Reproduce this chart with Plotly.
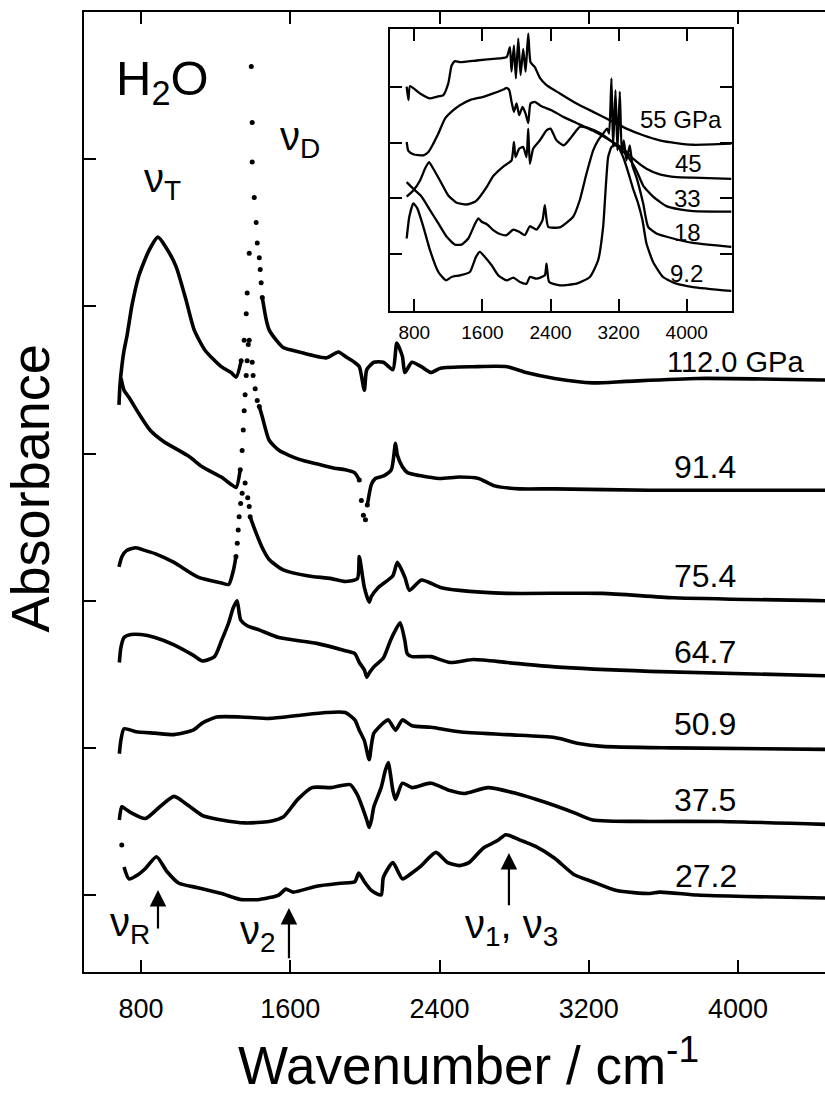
import plotly.graph_objects as go

# ---------------- data ----------------
# main panel: wavenumber (cm-1) and offset absorbance (arb. units)
wn_112 = [682, 687, 698, 709, 725, 752, 789, 843, 891, 934, 988, 1042, 1085, 1144, 1230, 1283, 1310, 1337,
          1353, 1364, 1369, 1380, 1391, 1396, 1396, 1407, 1417, 1423, 1434, 1439, 1444, 1450,
          1471, 1487, 1525, 1562, 1648, 1793, 1858, 1906, 1944, 1970, 1997, 2010, 2048, 2099, 2150, 2171,
          2201, 2214, 2252, 2303, 2354, 2405, 2583, 2762, 2864, 3017, 3221, 3399, 3783, 4467]
ab_112 = [3.33, 3.46, 3.60, 3.70, 3.80, 4.01, 4.21, 4.38, 4.47, 4.40, 4.27, 4.04, 3.84, 3.70, 3.59, 3.55, 3.52, 3.63,
          3.77, 3.95, 4.09, 4.36, 5.63, 5.25, 4.98, 4.74, 4.57, 4.43, 4.33, 4.25, 4.16, 4.06,
          3.91, 3.84, 3.77, 3.72, 3.69, 3.65, 3.69, 3.65, 3.62, 3.59, 3.43, 3.57, 3.62, 3.62, 3.57, 3.75,
          3.66, 3.55, 3.62, 3.59, 3.55, 3.58, 3.59, 3.59, 3.55, 3.51, 3.48, 3.49, 3.51, 3.50]

wn_914 = [693, 709, 736, 789, 848, 923, 977, 1058, 1128, 1230, 1283, 1310,
          1332, 1342, 1348, 1353, 1358, 1364, 1369, 1375, 1380, 1396, 1401, 1412, 1423, 1434,
          1450, 1487, 1541, 1648, 1740, 1836, 1895, 1944, 1970, 1981, 1992, 2003, 2013, 2035, 2056,
          2104, 2142, 2164, 2174, 2201, 2228, 2293, 2400, 2507, 2609, 2695, 2829, 3017, 3527, 4467]
ab_914 = [3.51, 3.43, 3.38, 3.27, 3.16, 3.08, 3.04, 2.98, 2.91, 2.84, 2.79, 2.77,
          2.89, 3.02, 3.16, 3.29, 3.40, 3.53, 3.63, 3.74, 3.77, 3.62, 3.53, 3.44, 3.36, 3.32,
          3.25, 3.09, 3.02, 2.96, 2.93, 2.90, 2.89, 2.87, 2.82, 2.68, 2.58, 2.55, 2.65, 2.79, 2.83,
          2.85, 2.89, 3.07, 2.99, 2.91, 2.87, 2.85, 2.83, 2.84, 2.83, 2.78, 2.76, 2.76, 2.75, 2.75]

wn_754 = [682, 698, 722, 773, 824, 875, 977, 1106, 1232, 1270, 1296, 1309, 1316, 1321, 1326, 1334, 1342,
          1358, 1372, 1380, 1385, 1411, 1450, 1487, 1562, 1691, 1820, 1895, 1960, 1970, 1997, 2023,
          2035, 2072, 2150, 2174, 2214, 2239, 2303, 2405, 2507, 2762, 3273, 3655, 4467]
ab_754 = [2.23, 2.30, 2.34, 2.36, 2.34, 2.32, 2.26, 2.16, 2.12, 2.11, 2.21, 2.30, 2.39, 2.48, 2.57, 2.66, 2.73,
          2.80, 2.70, 2.64, 2.57, 2.48, 2.36, 2.28, 2.21, 2.17, 2.15, 2.13, 2.15, 2.30, 2.09, 1.99,
          2.03, 2.09, 2.17, 2.26, 2.16, 2.07, 2.14, 2.09, 2.07, 2.05, 2.05, 2.02, 2.00]

wn_647 = [684, 692, 709, 746, 799, 875, 977, 1079, 1130, 1194, 1232, 1270, 1294, 1315, 1334, 1369, 1436,
          1538, 1742, 1895, 1946, 1970, 1997, 2010, 2024, 2048, 2099, 2137, 2164, 2189, 2214, 2227,
          2252, 2354, 2456, 2583, 2762, 3017, 3527, 4467]
ab_647 = [1.58, 1.68, 1.75, 1.77, 1.77, 1.75, 1.70, 1.63, 1.59, 1.62, 1.73, 1.85, 1.95, 2.00, 1.87, 1.83, 1.80,
          1.75, 1.71, 1.66, 1.64, 1.58, 1.53, 1.48, 1.51, 1.55, 1.61, 1.73, 1.80, 1.85, 1.73, 1.64,
          1.62, 1.62, 1.58, 1.60, 1.58, 1.55, 1.52, 1.49]

wn_509 = [684, 692, 709, 773, 875, 977, 1079, 1130, 1207, 1334, 1487, 1640, 1793, 1895, 1946, 1970, 1997,
          2023, 2035, 2048, 2099, 2126, 2164, 2201, 2252, 2354, 2507, 2762, 3017, 3146, 3273, 3655, 4467]
ab_509 = [0.96, 1.05, 1.13, 1.11, 1.10, 1.09, 1.12, 1.17, 1.21, 1.21, 1.20, 1.22, 1.24, 1.24, 1.19, 1.12, 1.05,
          0.92, 1.02, 1.10, 1.17, 1.19, 1.12, 1.19, 1.15, 1.14, 1.11, 1.09, 1.07, 1.03, 1.01, 1.00, 0.99]

wn_375 = [684, 697, 722, 746, 824, 901, 977, 1052, 1130, 1232, 1358, 1487, 1562, 1640, 1717, 1819, 1921,
          1960, 1985, 2010, 2023, 2035, 2048, 2087, 2110, 2126, 2137, 2150, 2164, 2201, 2252, 2354, 2456,
          2533, 2660, 2813, 2966, 3120, 3221, 3527, 3908, 4467]
ab_375 = [0.51, 0.60, 0.58, 0.56, 0.52, 0.60, 0.67, 0.61, 0.54, 0.51, 0.49, 0.50, 0.53, 0.65, 0.73, 0.73, 0.75,
          0.68, 0.60, 0.51, 0.46, 0.51, 0.60, 0.73, 0.85, 0.90, 0.82, 0.71, 0.65, 0.76, 0.73, 0.76, 0.71,
          0.69, 0.73, 0.69, 0.63, 0.56, 0.51, 0.50, 0.50, 0.48]

wn_272 = [697, 709, 735, 786, 824, 883, 939, 1003, 1105, 1232, 1334, 1436, 1538, 1576, 1615, 1742, 1870,
          1946, 1967, 1997, 2036, 2087, 2099, 2150, 2201, 2252, 2303, 2380, 2444, 2507, 2558, 2635, 2711,
          2755, 2839, 2915, 3017, 3120, 3221, 3349, 3527, 3579, 3783, 4038, 4467]
ab_272 = [0.34, 0.19, 0.11, 0.14, 0.18, 0.26, 0.16, 0.08, 0.05, 0.01, -0.03, -0.03, 0.00, 0.04, 0.02, 0.06, 0.08,
          0.09, 0.15, 0.09, 0.03, 0.00, 0.12, 0.22, 0.11, 0.15, 0.20, 0.29, 0.22, 0.20, 0.22, 0.32, 0.37,
          0.41, 0.37, 0.33, 0.25, 0.14, 0.09, 0.03, 0.01, 0.02, 0.00, -0.01, -0.02]

pressure_labels = ["112.0 GPa", "91.4", "75.4", "64.7", "50.9", "37.5", "27.2"]
# wavenumber ranges recorded as separate dots (steep parts of the scans)
dot_ranges = [[(1337, 1450)], [(1332, 1434), (1970, 2013)], [(1309, 1385)], [], [], [], [(600, 705)]]

# band positions marked by arrows (cm-1)
band_names = ["R", "2", "1,3"]
band_wn = [891, 1593, 2772]

# inset: wavenumber and offset absorbance
in_wn_55 = [710, 730, 749, 867, 984, 1062, 1140, 1199, 1238, 1277, 1336, 1532, 1727, 1884, 1923, 1942, 1970,
            1993, 2021, 2048, 2079, 2107, 2138, 2165, 2216, 2275, 2353, 2509, 2705, 2901, 3096, 3292, 3488,
            3683, 3879, 4074, 4524]
in_ab_55 = [4.00, 3.76, 4.01, 3.88, 3.79, 3.82, 3.85, 4.06, 4.38, 4.46, 4.44, 4.47, 4.50, 4.53, 4.71, 4.27, 4.74,
            4.15, 4.86, 4.21, 4.68, 4.27, 4.95, 4.44, 4.35, 4.16, 4.03, 3.88, 3.70, 3.55, 3.40, 3.25, 3.13,
            3.04, 2.99, 2.96, 2.98]
in_wn_45 = [710, 730, 788, 906, 965, 1023, 1082, 1160, 1258, 1336, 1453, 1610, 1727, 1845, 1884, 1915, 1942,
            1970, 2001, 2032, 2071, 2107, 2138, 2165, 2216, 2294, 2412, 2549, 2705, 2901, 3096, 3253, 3370,
            3527, 3683, 3879, 4074, 4524]
in_ab_45 = [3.01, 2.85, 2.79, 2.77, 2.83, 2.98, 3.16, 3.43, 3.58, 3.67, 3.76, 3.82, 3.88, 3.95, 3.98, 3.94, 3.73,
            3.55, 3.70, 3.49, 3.64, 3.52, 3.35, 3.70, 3.73, 3.65, 3.58, 3.46, 3.35, 3.21, 3.04, 2.89, 2.71,
            2.53, 2.43, 2.38, 2.37, 2.35]
in_wn_33 = [710, 788, 867, 925, 972, 1023, 1101, 1199, 1297, 1414, 1512, 1570, 1649, 1727, 1845, 1942, 1970,
            1989, 2032, 2079, 2118, 2138, 2157, 2196, 2275, 2353, 2400, 2470, 2556, 2646, 2744, 2862, 2979,
            3077, 3194, 3312, 3409, 3488, 3605, 3761, 3918, 4074, 4524]
in_ab_33 = [2.03, 2.14, 2.32, 2.53, 2.65, 2.53, 2.32, 2.05, 1.92, 1.89, 1.94, 2.03, 2.20, 2.40, 2.57, 2.68, 3.01,
            2.74, 2.89, 2.92, 2.74, 3.25, 2.62, 2.89, 3.04, 3.22, 3.25, 3.04, 2.95, 3.10, 3.28, 3.25, 3.17,
            3.07, 2.92, 2.74, 2.50, 2.23, 2.03, 1.86, 1.80, 1.77, 1.76]
in_wn_18 = [710, 788, 886, 984, 1082, 1180, 1277, 1355, 1434, 1512, 1551, 1590, 1649, 1727, 1805, 1884, 1962,
            2032, 2099, 2157, 2236, 2306, 2333, 2373, 2509, 2666, 2744, 2822, 2901, 2959, 3018, 3065, 3088,
            3116, 3135, 3163, 3186, 3214, 3237, 3261, 3292, 3331, 3362, 3409, 3488, 3546, 3644, 3840, 4074, 4524]
in_ab_18 = [2.29, 2.17, 2.03, 1.79, 1.55, 1.31, 1.17, 1.17, 1.28, 1.54, 1.64, 1.58, 1.54, 1.43, 1.36, 1.34, 1.44,
            1.40, 1.34, 1.50, 1.44, 1.61, 1.88, 1.49, 1.48, 1.67, 1.97, 2.44, 2.86, 3.04, 3.16, 3.25, 3.16,
            4.15, 2.92, 3.94, 2.86, 3.91, 2.80, 3.04, 2.68, 2.95, 2.59, 2.38, 1.91, 1.49, 1.37, 1.28, 1.20, 1.13]
in_wn_92 = [710, 741, 788, 835, 906, 984, 1082, 1171, 1238, 1336, 1453, 1524, 1570, 1629, 1708, 1786, 1884,
            1962, 2040, 2118, 2157, 2236, 2333, 2353, 2384, 2509, 2705, 2862, 2959, 3018, 3049, 3077, 3116,
            3155, 3194, 3253, 3312, 3370, 3429, 3480, 3527, 3605, 3722, 3879, 4074, 4524]
in_ab_92 = [1.28, 1.67, 1.91, 1.82, 1.49, 1.07, 0.68, 0.53, 0.59, 0.62, 0.68, 0.95, 1.04, 0.95, 0.80, 0.62, 0.53,
            0.58, 0.50, 0.47, 0.59, 0.56, 0.62, 0.83, 0.50, 0.44, 0.47, 0.59, 0.89, 1.49, 2.20, 2.74, 2.92,
            2.95, 2.92, 2.74, 2.47, 2.17, 1.91, 1.61, 1.19, 0.86, 0.59, 0.47, 0.41, 0.34]
inset_labels = ["55 GPa", "45", "33", "18", "9.2"]

x_ticks = [800, 1600, 2400, 3200, 4000]

# ---------------- figure ----------------
FONT = "Liberation Sans, Arial, Helvetica, sans-serif"
fig = go.Figure()

main_series = [(wn_112, ab_112), (wn_914, ab_914), (wn_754, ab_754), (wn_647, ab_647),
               (wn_509, ab_509), (wn_375, ab_375), (wn_272, ab_272)]

for (wn, ab), ranges in zip(main_series, dot_ranges):
    lx, ly, dx, dy = [], [], [], []
    for w, a in zip(wn, ab):
        inside = any(lo < w < hi for lo, hi in ranges)
        ondot = any(lo <= w <= hi for lo, hi in ranges)
        lx.append(w)
        ly.append(None if inside else a)
        if ondot:
            dx.append(w)
            dy.append(a)
    fig.add_trace(go.Scatter(x=lx, y=ly, mode="lines", connectgaps=False,
                             line=dict(color="black", width=3.6, shape="spline", smoothing=0.6),
                             hoverinfo="skip"))
    if dx:
        fig.add_trace(go.Scatter(x=dx, y=dy, mode="markers",
                                 marker=dict(color="black", size=5), hoverinfo="skip"))

inset_series = [(in_wn_55, in_ab_55), (in_wn_45, in_ab_45), (in_wn_33, in_ab_33),
                (in_wn_18, in_ab_18), (in_wn_92, in_ab_92)]
for wn, ab in inset_series:
    fig.add_trace(go.Scatter(x=wn, y=ab, mode="lines", xaxis="x2", yaxis="y2",
                             line=dict(color="black", width=2.3, shape="spline", smoothing=0.5),
                             hoverinfo="skip"))

annotations = []
# pressure labels (main)
label_pos = [(3984, 3.62), (3823, 2.91), (3823, 2.17), (3823, 1.65), (3823, 1.16), (3823, 0.645), (3829, 0.13)]
label_size = [29, 32, 32, 32, 32, 32, 32]
for txt, (x, y), s in zip(pressure_labels, label_pos, label_size):
    annotations.append(dict(x=x, y=y, xref="x", yref="y", text=txt, showarrow=False,
                            font=dict(size=s, color="black", family=FONT), xanchor="center", yanchor="middle"))
# inset labels
in_label_pos = [(3930, 3.42), (4019, 2.63), (4015, 2.00), (4015, 1.38), (4000, 0.66)]
for txt, (x, y) in zip(inset_labels, in_label_pos):
    annotations.append(dict(x=x, y=y, xref="x2", yref="y2", text=txt, showarrow=False,
                            font=dict(size=24, color="black", family=FONT), xanchor="center", yanchor="middle"))

# arrows marking bands
arrow_tip = [0.034, -0.088, 0.285]
arrow_tail = [-0.238, -0.44, -0.08]
for w, t0, t1 in zip(band_wn, arrow_tip, arrow_tail):
    annotations.append(dict(x=w, y=t0, ax=w, ay=t1, xref="x", yref="y", axref="x", ayref="y",
                            text="", showarrow=True, arrowhead=2, arrowsize=1.5, arrowwidth=2.2,
                            arrowcolor="black", standoff=0, startstandoff=0))

# band labels
nu_font = dict(size=40, color="black", family=FONT)
annotations += [
    dict(x=625, y=-0.205, xref="x", yref="y", text="ν<sub>R</sub>", showarrow=False, font=nu_font,
         xanchor="left", yanchor="middle"),
    dict(x=1320, y=-0.26, xref="x", yref="y", text="ν<sub>2</sub>", showarrow=False, font=nu_font,
         xanchor="left", yanchor="middle"),
    dict(x=2525, y=-0.22, xref="x", yref="y", text="ν<sub>1</sub>, ν<sub>3</sub>", showarrow=False,
         font=nu_font, xanchor="left", yanchor="middle"),
    dict(x=805, y=4.855, xref="x", yref="y", text="ν<sub>T</sub>", showarrow=False, font=nu_font,
         xanchor="left", yanchor="middle"),
    dict(x=1535, y=5.14, xref="x", yref="y", text="ν<sub>D</sub>", showarrow=False, font=nu_font,
         xanchor="left", yanchor="middle"),
    dict(x=655, y=5.53, xref="x", yref="y", text="H<sub>2</sub>O", showarrow=False,
         font=dict(size=49, color="black", family=FONT), xanchor="left", yanchor="middle"),
    # axis titles
    dict(x=-0.0725, y=0.504, xref="paper", yref="paper", text="Absorbance", textangle=-90,
         showarrow=False, font=dict(size=54, color="black", family=FONT),
         xanchor="center", yanchor="middle"),
    dict(x=0.519, y=-0.093, xref="paper", yref="paper", text="Wavenumber / cm<sup>-1</sup>",
         showarrow=False, font=dict(size=53, color="black", family=FONT),
         xanchor="center", yanchor="middle"),
]

axis_common = dict(showgrid=False, zeroline=False, showline=True, linecolor="black",
                   ticks="inside", tickcolor="black")

fig.update_layout(
    width=825, height=1099,
    margin=dict(l=84, r=0, t=12, b=127),
    paper_bgcolor="white", plot_bgcolor="white",
    showlegend=False,
    font=dict(family=FONT, color="black"),
    xaxis=dict(range=[494.5, 4466], tickvals=x_ticks, ticktext=[str(v) for v in x_ticks],
               linewidth=2, ticklen=12, tickwidth=1.5, mirror="ticks",
               tickfont=dict(size=27, family=FONT, color="black"), ticklabelstandoff=12,
               **axis_common),
    yaxis=dict(range=[-0.523, 6.0], tickvals=[0, 1, 2, 3, 4, 5], showticklabels=False,
               linewidth=2, ticklen=12, tickwidth=1.5, mirror=False, **axis_common),
    xaxis2=dict(domain=[0.413, 0.8745], anchor="y2", range=[514.5, 4532], tickvals=x_ticks,
                ticktext=[str(v) for v in x_ticks], linewidth=2, ticklen=12, tickwidth=1.5,
                mirror="ticks", tickfont=dict(size=19, family=FONT, color="black"),
                ticklabelstandoff=3, **axis_common),
    yaxis2=dict(domain=[0.6885, 0.9823], anchor="x2", range=[-0.02, 5.035], tickvals=[1, 2, 3, 4],
                showticklabels=False, linewidth=2, ticklen=12, tickwidth=1.5, mirror="ticks",
                **axis_common),
    annotations=annotations,
)

fig.write_html("out.html")
